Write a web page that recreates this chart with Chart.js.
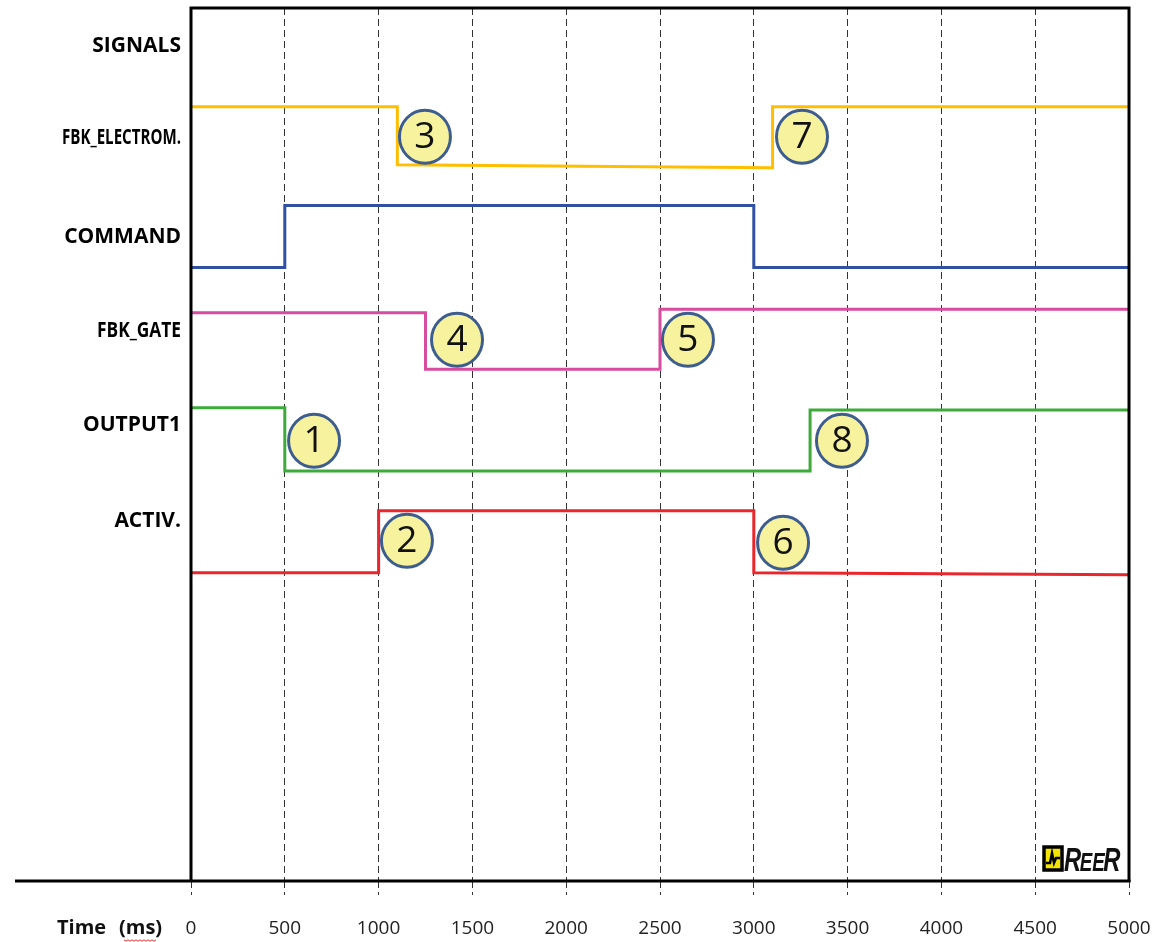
<!DOCTYPE html>
<html>
<head>
<meta charset="utf-8">
<script src="https://cdn.jsdelivr.net/npm/chart.js@4.4.1/dist/chart.umd.min.js"></script>
<style>
  html, body { margin: 0; padding: 0; background: #ffffff; }
  canvas { display: block; }
</style>
</head>
<body>
<canvas id="timing" width="1156" height="942"></canvas>
<script>
// Time axis (ms)
const timeTicks = [0, 500, 1000, 1500, 2000, 2500, 3000, 3500, 4000, 4500, 5000];

// Row captions on the left and the level each caption sits at
const signalNames = ['SIGNALS', 'FBK_ELECTROM.', 'COMMAND', 'FBK_GATE', 'OUTPUT1', 'ACTIV.'];
const signalLabelLevels = [5.18, 4.275, 3.30, 2.378, 1.455, 0.511];

// Each trace: transition times (ms) and the level at each point.
// Every lane sits one unit above the next, a high state is about +0.6.
const fbkElectromTimes  = [0, 1100, 1100, 3100, 3100, 5000];
const fbkElectromLevels = [4.58, 4.58, 4.01, 3.98, 4.58, 4.58];

const commandTimes  = [0, 500, 500, 3000, 3000, 5000];
const commandLevels = [3.0, 3.0, 3.61, 3.61, 3.0, 3.0];

const fbkGateTimes  = [0, 1250, 1250, 2500, 2500, 5000];
const fbkGateLevels = [2.555, 2.555, 2.0, 2.0, 2.59, 2.59];

const output1Times  = [0, 500, 500, 3300, 3300, 5000];
const output1Levels = [1.62, 1.62, 1.0, 1.0, 1.60, 1.60];

const activTimes  = [0, 1000, 1000, 3000, 3000, 5000];
const activLevels = [0.0, 0.0, 0.61, 0.61, 0.0, -0.02];

// Numbered event markers
const calloutNumbers = ['1', '2', '3', '4', '5', '6', '7', '8'];
const calloutTimes   = [656, 1151, 1247, 1418, 2649, 3156, 3257, 3470];
const calloutLevels  = [1.297, 0.314, 4.285, 2.29, 2.29, 0.295, 4.285, 1.297];

const FONT = '"Open Sans", "DejaVu Sans", sans-serif';

// The two feedback captions are set in a squeezed face
const captionSqueeze = { 'FBK_ELECTROM.': 119, 'FBK_GATE': 84 };

function toPoints(times, levels) {
  return times.map((t, i) => ({ x: t, y: levels[i] }));
}

function trace(label, times, levels, color) {
  return {
    label,
    data: toPoints(times, levels),
    borderColor: color,
    borderWidth: 3,
    pointRadius: 0,
    tension: 0,
    fill: false,
    borderJoinStyle: 'miter'
  };
}

// Row captions, right-aligned against the frame
const captionPlugin = {
  id: 'captions',
  afterDraw(chart) {
    const { ctx, chartArea: a, scales } = chart;
    ctx.save();
    ctx.fillStyle = '#000';
    ctx.font = 'bold 21px ' + FONT;
    ctx.textAlign = 'right';
    ctx.textBaseline = 'middle';
    signalNames.forEach((name, i) => {
      const y = scales.y.getPixelForValue(signalLabelLevels[i]);
      const w = captionSqueeze[name];
      if (w) ctx.fillText(name, a.left - 10, y, w);
      else ctx.fillText(name, a.left - 10, y);
    });
    ctx.restore();
  }
};

// Outer frame of the plot plus the long baseline running under the captions
const framePlugin = {
  id: 'frame',
  afterDatasetsDraw(chart) {
    const { ctx, chartArea: a } = chart;
    ctx.save();
    ctx.strokeStyle = '#000';
    ctx.lineWidth = 3;
    ctx.lineCap = 'butt';
    ctx.beginPath();
    ctx.moveTo(a.left, a.bottom);
    ctx.lineTo(a.left, a.top);
    ctx.lineTo(a.right, a.top);
    ctx.lineTo(a.right, a.bottom + 1);
    ctx.stroke();
    ctx.beginPath();
    ctx.moveTo(15, a.bottom);
    ctx.lineTo(a.right + 1.5, a.bottom);
    ctx.stroke();
    ctx.restore();
  }
};

// Yellow numbered circles marking each event
const calloutPlugin = {
  id: 'callouts',
  afterDatasetsDraw(chart) {
    const { ctx, scales } = chart;
    ctx.save();
    calloutNumbers.forEach((n, i) => {
      const cx = scales.x.getPixelForValue(calloutTimes[i]);
      const cy = scales.y.getPixelForValue(calloutLevels[i]);
      ctx.beginPath();
      ctx.ellipse(cx, cy, 25.5, 26.5, 0, 0, Math.PI * 2);
      ctx.fillStyle = '#f7f29e';
      ctx.fill();
      ctx.lineWidth = 3;
      ctx.strokeStyle = '#3d5d8f';
      ctx.stroke();
      ctx.fillStyle = '#111';
      ctx.font = '37px ' + FONT;
      ctx.textAlign = 'center';
      ctx.textBaseline = 'middle';
      ctx.fillText(n, cx, cy + 1);
    });
    ctx.restore();
  }
};

// Axis title at the lower left and the brand mark in the corner
const decorPlugin = {
  id: 'decor',
  afterDraw(chart) {
    const { ctx, chartArea: a } = chart;
    ctx.save();
    ctx.fillStyle = '#111';
    ctx.font = 'bold 20px ' + FONT;
    ctx.textAlign = 'left';
    ctx.textBaseline = 'middle';
    ctx.fillText('Time', 57, 928);
    ctx.fillText('(ms)', 119, 928);
    // spell-check squiggle under "ms"
    ctx.strokeStyle = '#e03030';
    ctx.lineWidth = 1;
    ctx.beginPath();
    for (let x = 124, k = 0; x <= 156; x += 2, k++) {
      const y = 940 + (k % 2 ? 1.2 : -0.2);
      if (k === 0) ctx.moveTo(x, y); else ctx.lineTo(x, y);
    }
    ctx.stroke();

    // logo box
    const lx = a.right - 85, ly = a.bottom - 34;
    ctx.fillStyle = '#f3e400';
    ctx.fillRect(lx, ly, 18, 23);
    ctx.strokeStyle = '#000';
    ctx.lineWidth = 3.5;
    ctx.strokeRect(lx, ly, 18, 23);
    ctx.lineWidth = 2.5;
    ctx.beginPath();
    ctx.moveTo(lx + 2, ly + 16);
    ctx.lineTo(lx + 6, ly + 16);
    ctx.lineTo(lx + 8, ly + 6);
    ctx.lineTo(lx + 10, ly + 16);
    ctx.lineTo(lx + 12, ly + 11);
    ctx.lineTo(lx + 16, ly + 11);
    ctx.stroke();

    // wordmark, drawn in a horizontally condensed heavy italic
    ctx.fillStyle = '#111';
    ctx.textAlign = 'left';
    ctx.textBaseline = 'alphabetic';
    const sx = 0.72;
    ctx.translate(lx + 20, ly + 24);
    ctx.scale(sx, 1);
    let tx = 0;
    ctx.font = 'italic bold 33px "Liberation Sans", sans-serif';
    ctx.fillText('R', tx, 0);
    tx += ctx.measureText('R').width - 2;
    ctx.font = 'italic bold 26px "Liberation Sans", sans-serif';
    ctx.fillText('EE', tx, 0);
    tx += ctx.measureText('EE').width - 2;
    ctx.font = 'italic bold 33px "Liberation Sans", sans-serif';
    ctx.fillText('R', tx, 0);
    ctx.restore();
  }
};

new Chart(document.getElementById('timing'), {
  type: 'line',
  data: {
    datasets: [
      trace('FBK_ELECTROM.', fbkElectromTimes, fbkElectromLevels, '#ffbf00'),
      trace('COMMAND', commandTimes, commandLevels, '#3050a2'),
      trace('FBK_GATE', fbkGateTimes, fbkGateLevels, '#d94b9f'),
      trace('OUTPUT1', output1Times, output1Levels, '#3cab3a'),
      trace('ACTIV.', activTimes, activLevels, '#e8262b')
    ]
  },
  options: {
    responsive: false,
    animation: false,
    events: [],
    layout: { padding: { top: 8, right: 27, bottom: 0, left: 0 } },
    plugins: {
      legend: { display: false },
      tooltip: { enabled: false },
      title: { display: false }
    },
    scales: {
      x: {
        type: 'linear',
        min: timeTicks[0],
        max: timeTicks[timeTicks.length - 1],
        afterBuildTicks(scale) { scale.ticks = timeTicks.map(v => ({ value: v })); },
        afterFit(scale) {
          scale.height = 61;
          scale.paddingLeft = 0;
          scale.paddingRight = 0;
        },
        ticks: {
          color: '#222',
          font: { family: FONT, size: 19 },
          padding: 22,
          maxRotation: 0,
          autoSkip: false,
          callback(value) { return String(value); }
        },
        grid: {
          color: '#333',
          lineWidth: 1,
          drawTicks: true,
          tickLength: 14,
          tickColor: '#333',
          tickBorderDash: [7, 4]
        },
        border: { display: false, dash: [7, 4] }
      },
      y: {
        type: 'linear',
        min: -3.03,
        max: 5.55,
        afterFit(scale) {
          scale.width = 191;
          scale.paddingTop = 0;
          scale.paddingBottom = 0;
        },
        ticks: { display: false },
        grid: { display: false, drawTicks: false },
        border: { display: false }
      }
    }
  },
  plugins: [framePlugin, calloutPlugin, captionPlugin, decorPlugin]
});
</script>
</body>
</html>
